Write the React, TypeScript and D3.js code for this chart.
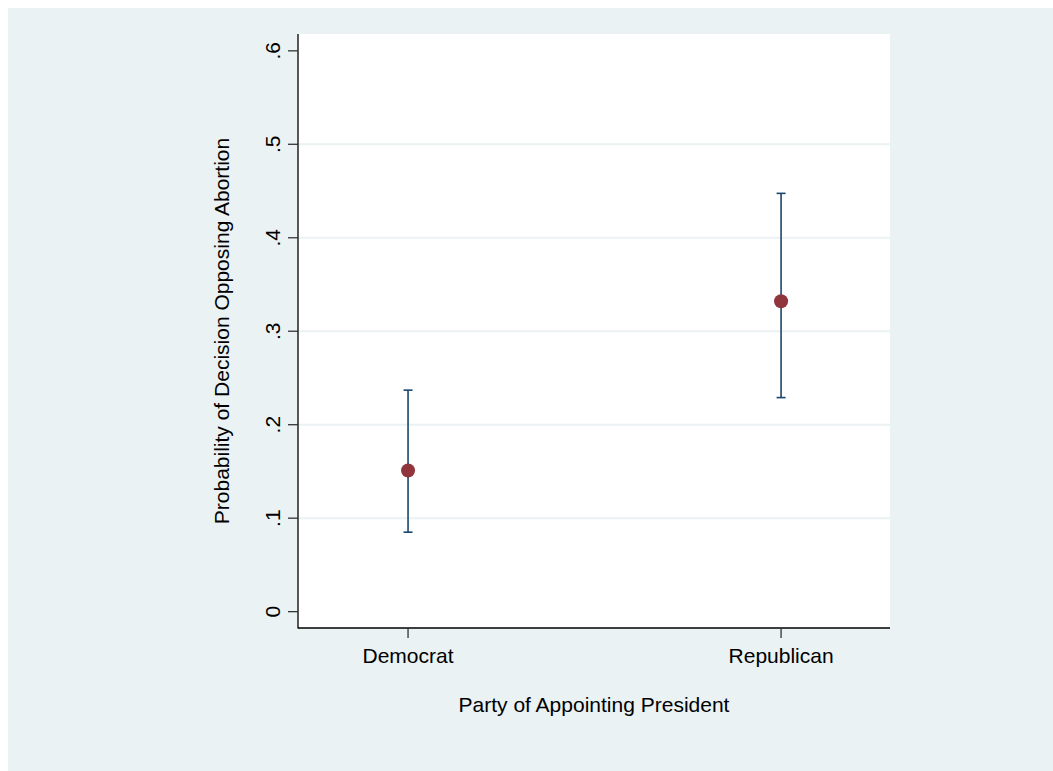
import React from "react";
import * as d3 from "d3";

const width = 1053,
  height = 771;
// plot region in page pixels
const plot = { left: 298, right: 890, top: 34, bottom: 628 };

const parties = ["Democrat", "Republican"];
const estimates = [0.151, 0.332];
const lowerCI = [0.085, 0.229];
const upperCI = [0.237, 0.4475];
const yTicks = [0, 0.1, 0.2, 0.3, 0.4, 0.5, 0.6];
const gridTicks = [0.1, 0.2, 0.3, 0.4, 0.5];

const xTitle = "Party of Appointing President";
const yTitle = "Probability of Decision Opposing Abortion";

const bg = "#eaf2f3";
const navy = "#1a476f";
const maroon = "#90353b";
const font = "'Liberation Sans', Arial, Helvetica, sans-serif";

// Stata style labels: .1 instead of 0.1
const fmt = (v: number) => (v === 0 ? "0" : d3.format(".1f")(v).replace(/^0/, ""));

export default function App() {
  const xScale = d3
    .scaleLinear()
    .domain([-0.295, 1.292])
    .range([plot.left, plot.right]);

  const yScale = d3
    .scaleLinear()
    .domain([-0.0175, 0.618])
    .range([plot.bottom, plot.top]);

  const cap = 4.5;

  return (
    <div style={{ position: "fixed", left: 0, top: 0, width, height }}>
      <svg width={width} height={height} style={{ display: "block" }}>
        <rect x={0} y={0} width={width} height={height} fill="#ffffff" />
        <rect x={8} y={8} width={width - 8} height={height - 8} fill={bg} />
        <rect
          x={plot.left}
          y={plot.top}
          width={plot.right - plot.left}
          height={plot.bottom - plot.top}
          fill="#ffffff"
        />

        {/* horizontal grid */}
        {gridTicks.map((t) => (
          <line
            key={"g" + t}
            x1={plot.left}
            x2={plot.right}
            y1={yScale(t)}
            y2={yScale(t)}
            stroke={bg}
            strokeWidth={2}
          />
        ))}

        {/* error bars */}
        {parties.map((p, i) => {
          const x = xScale(i);
          return (
            <g key={"ci" + p} stroke={navy} strokeWidth={1.6} fill="none">
              <line x1={x} x2={x} y1={yScale(lowerCI[i])} y2={yScale(upperCI[i])} />
              <line x1={x - cap} x2={x + cap} y1={yScale(lowerCI[i])} y2={yScale(lowerCI[i])} />
              <line x1={x - cap} x2={x + cap} y1={yScale(upperCI[i])} y2={yScale(upperCI[i])} />
            </g>
          );
        })}

        {/* point estimates */}
        {parties.map((p, i) => (
          <circle key={"pt" + p} cx={xScale(i)} cy={yScale(estimates[i])} r={7} fill={maroon} />
        ))}

        {/* axes */}
        <line x1={plot.left} x2={plot.left} y1={plot.top} y2={plot.bottom + 0.6} stroke="#000" strokeWidth={1.3} />
        <line x1={plot.left} x2={plot.right} y1={plot.bottom} y2={plot.bottom} stroke="#000" strokeWidth={1.3} />

        {yTicks.map((t) => (
          <g key={"yt" + t}>
            <line x1={plot.left - 10} x2={plot.left} y1={yScale(t)} y2={yScale(t)} stroke="#333" strokeWidth={1.3} />
            <text
              transform={`translate(280,${yScale(t)}) rotate(-90)`}
              textAnchor="middle"
              fontFamily={font}
              fontSize={21}
              fill="#000"
            >
              {fmt(t)}
            </text>
          </g>
        ))}

        {parties.map((p, i) => (
          <g key={"xt" + p}>
            <line x1={xScale(i)} x2={xScale(i)} y1={plot.bottom} y2={plot.bottom + 10} stroke="#333" strokeWidth={1.3} />
            <text x={xScale(i)} y={663} textAnchor="middle" fontFamily={font} fontSize={21} fill="#000">
              {p}
            </text>
          </g>
        ))}

        <text x={(plot.left + plot.right) / 2} y={712} textAnchor="middle" fontFamily={font} fontSize={21} fill="#000">
          {xTitle}
        </text>
        <text
          transform={`translate(229,${(plot.top + plot.bottom) / 2}) rotate(-90)`}
          textAnchor="middle"
          fontFamily={font}
          fontSize={21}
          fill="#000"
        >
          {yTitle}
        </text>
      </svg>
    </div>
  );
}
